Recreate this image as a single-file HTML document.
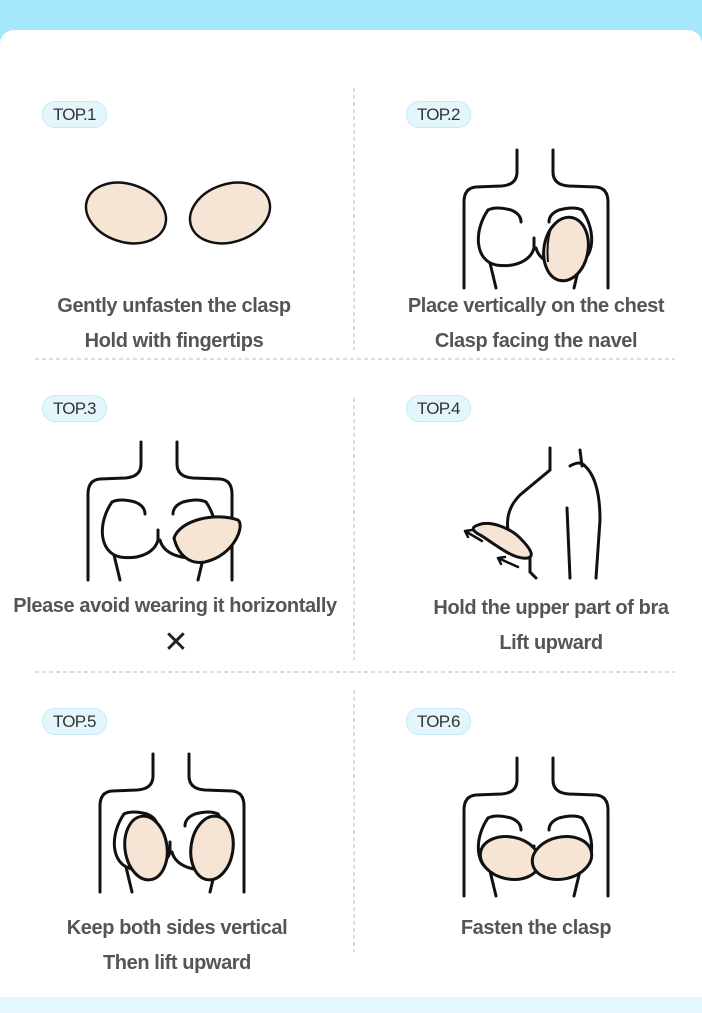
<!DOCTYPE html>
<html><head><meta charset="utf-8"><style>
html,body{margin:0;padding:0;}
body{width:702px;height:1013px;position:relative;background:#a6e8fb;overflow:hidden;font-family:"Liberation Sans",sans-serif;}
.card{position:absolute;left:0;top:30px;width:702px;height:968px;background:#fff;border-radius:14px 14px 0 0;}
.foot{position:absolute;left:0;top:997px;width:702px;height:16px;background:#e3f7fd;}
.pill{position:absolute;height:25px;line-height:25px;padding:0 10px;border-radius:13px;background:#e3f6fc;border:1px solid #c4ebf8;font-size:17px;color:#333;letter-spacing:-0.8px;}
.t{position:absolute;width:340px;text-align:center;font-family:"Liberation Sans",sans-serif;font-weight:bold;font-size:20px;letter-spacing:-0.4px;color:#555;line-height:24px;}
svg{position:absolute;left:0;top:0;}
</style></head><body>
<div class="card"></div>
<div class="foot"></div>
<svg width="702" height="1013" viewBox="0 0 702 1013">
<defs>
<g id="torso" fill="none" stroke="#111" stroke-width="3" stroke-linecap="round">
<path d="M-19,0 L-19,22 Q-19,35 -35,36 L-60,37 Q-72,38 -72,52 L-72,138"/>
<path d="M17,0 L17,22 Q17,35 33,36 L60,37 Q72,38 72,52 L72,138"/>
<path d="M-48,60 Q-40,56 -25,60 Q-15,64 -15,72"/>
<path d="M46,60 Q38,56 23,60 Q13,64 13,72"/>
<path d="M-48,60 C-62,80 -62,110 -40,115 C-20,118 -5,110 -2,98 L-2,88"/>
<path d="M46,60 C60,80 60,110 38,115 C18,118 3,110 0,98"/>
<path d="M-46,113 L-40,138 M44,113 L38,138"/>
</g>
</defs>
<g stroke="#bbb" stroke-width="1" stroke-dasharray="4,3">
<line x1="354" y1="88" x2="354" y2="350"/>
<line x1="354" y1="398" x2="354" y2="660"/>
<line x1="354" y1="690" x2="354" y2="952"/>
<line x1="35" y1="359" x2="675" y2="359"/>
<line x1="35" y1="672" x2="675" y2="672"/>
</g>
<g stroke="#111" stroke-width="2.5" fill="#f6e4d4">
<ellipse cx="126" cy="213" rx="41" ry="29" transform="rotate(18 126 213)"/>
<ellipse cx="230" cy="213" rx="41" ry="29" transform="rotate(-18 230 213)"/>
</g>
<use href="#torso" x="536" y="150"/>
<g stroke="#111" stroke-width="3" fill="#f6e4d4">
<ellipse cx="566" cy="249" rx="22" ry="32" transform="rotate(10 566 249)"/>
</g>
<path d="M552,226 Q546,240 548,262" stroke="#111" stroke-width="2" fill="none"/>
<use href="#torso" x="160" y="442"/>
<path d="M174,538 C180,520 215,512 238,520 C245,525 235,555 205,562 C190,565 178,555 174,538 Z" stroke="#111" stroke-width="3" fill="#f6e4d4"/>
<g fill="none" stroke="#111" stroke-width="3" stroke-linecap="round">
<path d="M550,448 L550,470 L520,495 Q505,510 508,530 L514,548"/>
<path d="M570,466 Q580,460 585,466 Q600,480 600,520 L596,578"/>
<path d="M580,450 L582,466"/>
<path d="M567,508 L570,578"/>
<path d="M530,556 L530,572 L536,578"/>
</g>
<path d="M478,525 C490,520 510,528 520,538 C530,548 535,556 528,558 C515,560 500,548 482,536 C470,530 472,527 478,525 Z" stroke="#111" stroke-width="3" fill="#f6e4d4"/>
<g fill="none" stroke="#111" stroke-width="2.5" stroke-linecap="round">
<path d="M482,541 L465,531 M465,531 L472,530 M465,531 L468,537"/>
<path d="M518,567 L498,558 M498,558 L505,557 M498,558 L501,564"/>
</g>
<use href="#torso" x="172" y="754"/>
<g stroke="#111" stroke-width="3" fill="#f6e4d4">
<ellipse cx="146" cy="848" rx="21" ry="32" transform="rotate(-8 146 848)"/>
<ellipse cx="212" cy="848" rx="21" ry="32" transform="rotate(8 212 848)"/>
</g>
<use href="#torso" x="536" y="758"/>
<g stroke="#111" stroke-width="3" fill="#f6e4d4">
<ellipse cx="510" cy="858" rx="30" ry="21" transform="rotate(12 510 858)"/>
<ellipse cx="562" cy="858" rx="30" ry="21" transform="rotate(-12 562 858)"/>
</g>
<text x="176" y="652" text-anchor="middle" font-family="Liberation Sans, sans-serif" font-size="30" fill="#222">✕</text>
</svg>
<div class="pill" style="left:42px;top:101px">TOP.1</div>
<div class="pill" style="left:406px;top:101px">TOP.2</div>
<div class="pill" style="left:42px;top:395px">TOP.3</div>
<div class="pill" style="left:406px;top:395px">TOP.4</div>
<div class="pill" style="left:42px;top:708px">TOP.5</div>
<div class="pill" style="left:406px;top:708px">TOP.6</div>
<div class="t" style="left:4px;top:294px">Gently unfasten the clasp</div>
<div class="t" style="left:4px;top:329px">Hold with fingertips</div>
<div class="t" style="left:366px;top:294px">Place vertically on the chest</div>
<div class="t" style="left:366px;top:329px">Clasp facing the navel</div>
<div class="t" style="left:-20px;top:594px;width:390px;letter-spacing:-0.4px">Please avoid wearing it horizontally</div>
<div class="t" style="left:381px;top:596px">Hold the upper part of bra</div>
<div class="t" style="left:381px;top:631px">Lift upward</div>
<div class="t" style="left:7px;top:916px">Keep both sides vertical</div>
<div class="t" style="left:7px;top:951px">Then lift upward</div>
<div class="t" style="left:366px;top:916px">Fasten the clasp</div>
</body></html>
